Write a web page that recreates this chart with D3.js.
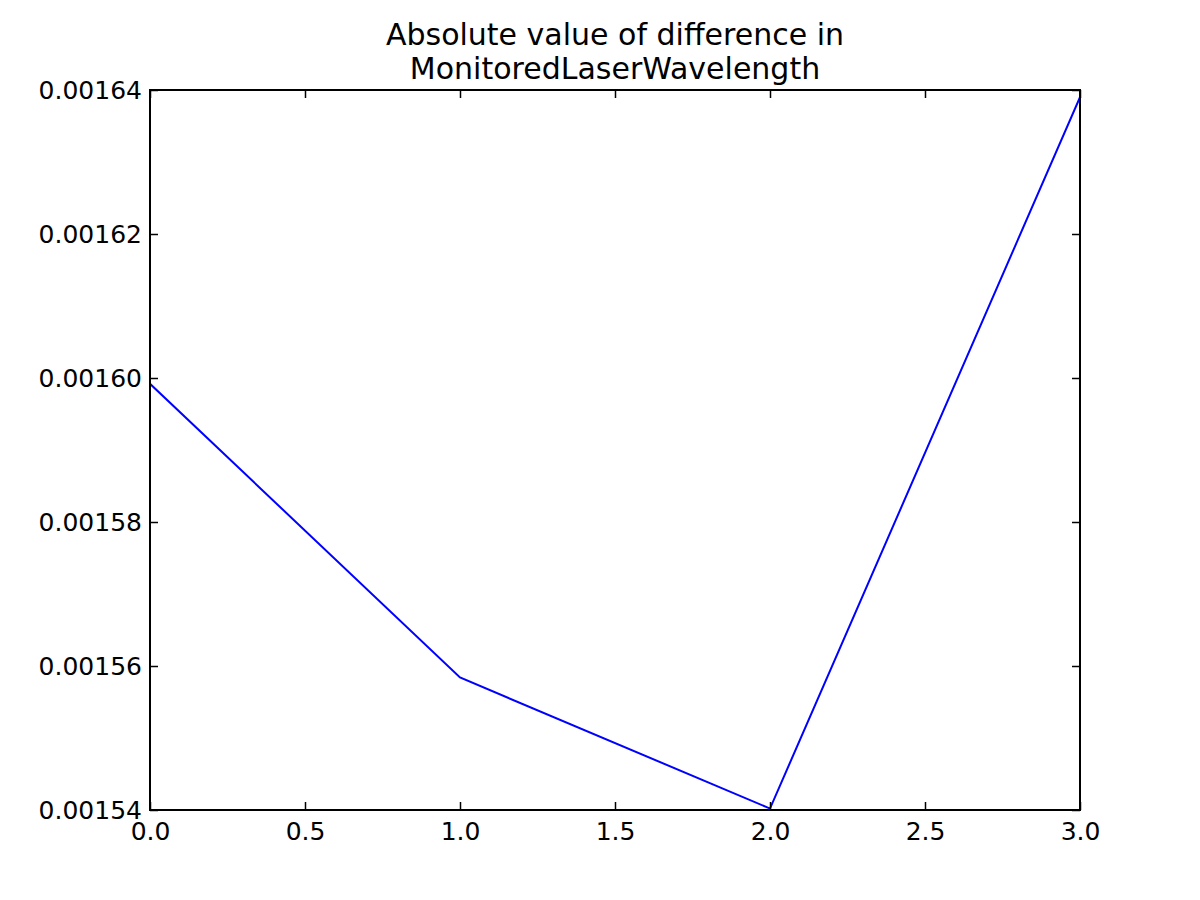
<!DOCTYPE html>
<html><head><meta charset="utf-8">
<script src="https://cdn.jsdelivr.net/npm/d3@7"></script>
<style>body{margin:0;background:#fff}text{font-family:"DejaVu Sans",sans-serif}</style>
</head><body>
<svg id="c" width="1200" height="900"></svg>
<script>
const xVals = [0, 1, 2, 3];
const yVals = [0.0015992, 0.0015584, 0.0015402, 0.0016390];
const xTicks = [0, 0.5, 1.0, 1.5, 2.0, 2.5, 3.0];
const yTicks = [0.00154, 0.00156, 0.00158, 0.00160, 0.00162, 0.00164];
const titleLines = ["Absolute value of difference in", "MonitoredLaserWavelength"];

const svg = d3.select("#c");
const L = 150, R = 1080, T = 90, B = 810;
const x = d3.scaleLinear().domain([0, 3]).range([L, R]);
const y = d3.scaleLinear().domain([0.00154, 0.00164]).range([B, T]);

svg.append("rect").attr("width",1200).attr("height",900).attr("fill","#fff");

const clipId = "clip";
svg.append("clipPath").attr("id", clipId).append("rect")
  .attr("x", L).attr("y", T).attr("width", R-L).attr("height", B-T);

const line = d3.line().x((d,i)=>x(xVals[i])).y(d=>y(d));
svg.append("path").datum(yVals).attr("d", line)
  .attr("fill","none").attr("stroke","#0000ff").attr("stroke-width",2)
  .attr("clip-path", `url(#${clipId})`);

const tl = 8;
const gB = svg.append("g").attr("transform",`translate(0,${B})`)
  .call(d3.axisBottom(x).tickValues(xTicks).tickFormat(d3.format(".1f")).tickSizeInner(-tl).tickSizeOuter(0).tickPadding(12));
const gT = svg.append("g").attr("transform",`translate(0,${T})`)
  .call(d3.axisTop(x).tickValues(xTicks).tickFormat("").tickSizeInner(-tl).tickSizeOuter(0));
const gL = svg.append("g").attr("transform",`translate(${L},0)`)
  .call(d3.axisLeft(y).tickValues(yTicks).tickFormat(d3.format(".5f")).tickSizeInner(-tl).tickSizeOuter(0).tickPadding(8));
const gR = svg.append("g").attr("transform",`translate(${R},0)`)
  .call(d3.axisRight(y).tickValues(yTicks).tickFormat("").tickSizeInner(-tl).tickSizeOuter(0));

[gB,gT,gL,gR].forEach(g=>{
  g.select(".domain").remove();
  g.selectAll(".tick line").attr("stroke","#000").attr("stroke-width",1.5);
  g.selectAll(".tick text").attr("fill","#000").style("font-size","25px").style("font-family","DejaVu Sans");
});

svg.append("rect").attr("x",L).attr("y",T).attr("width",R-L).attr("height",B-T)
  .attr("fill","none").attr("stroke","#000").attr("stroke-width",2);

svg.append("g").selectAll("text").data(titleLines).join("text")
  .attr("x",(L+R)/2).attr("y",(d,i)=>45+i*34)
  .attr("text-anchor","middle").style("font-size","30px").attr("fill","#000")
  .text(d=>d);
</script>
</body></html>
